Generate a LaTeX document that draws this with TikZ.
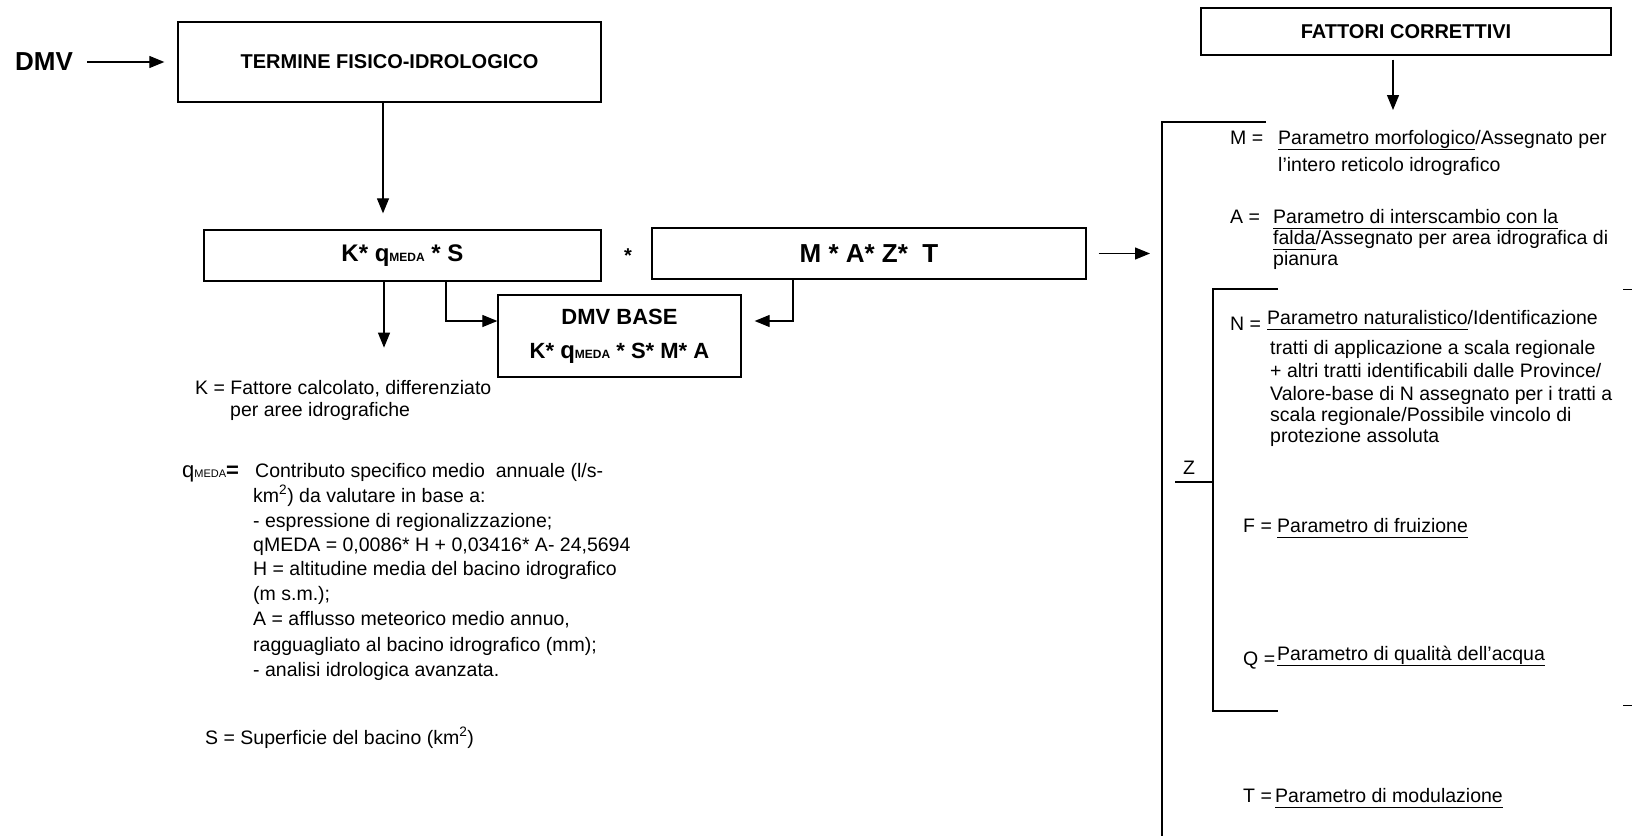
\documentclass[tikz,border=0pt]{standalone}
\usepackage{fontspec}
\setmainfont{Liberation Sans}
\usetikzlibrary{arrows.meta}
\newcommand{\ulg}[1]{\underline{#1\vphantom{g}}}
\newcommand{\qmbig}{{\fontsize{24}{24}\selectfont q}{\fontsize{12}{12}\selectfont MEDA}}
\newcommand{\qmtxt}{{\fontsize{22}{22}\selectfont q}{\fontsize{11}{11}\selectfont MEDA}}
\begin{document}
\begin{tikzpicture}[x=1pt,y=-1pt,
  box/.style={draw, line width=1.3pt, inner sep=0pt, align=center},
  arr/.style={line width=1.2pt, -{Triangle[length=15pt,width=12pt]}},
  ln/.style={line width=1.3pt},
  txt/.style={inner sep=0pt, anchor=base west, font=\fontsize{19.5}{23}\selectfont},
  hd/.style={font=\bfseries\fontsize{20}{24}\selectfont}]
\useasboundingbox (0,0) rectangle (1632,835);

% ---- top left
\node[inner sep=0pt, font=\bfseries\fontsize{26}{26}\selectfont] (dmv) at (44,62) {DMV};
\node[box, minimum width=423pt, minimum height=80pt, hd] (term) at (389.5,62) {TERMINE FISICO-IDROLOGICO};
\draw[arr] ([xshift=14pt]dmv.east) -- ([xshift=-13pt]term.west);

% ---- formula boxes
\node[box, minimum width=397pt, minimum height=51pt, font=\bfseries\fontsize{24}{24}\selectfont] (kbox) at (402.5,255.5) {K* \qmbig{} * S};
\node[inner sep=0pt, font=\bfseries\fontsize{20}{20}\selectfont] (star) at (628,256) {*};
\node[box, minimum width=434pt, minimum height=51pt, font=\bfseries\fontsize{26}{26}\selectfont] (mbox) at (869,253.5) {M * A* Z*\ \ T};
\node[box, minimum width=243pt, minimum height=82pt, font=\bfseries\fontsize{22}{34}\selectfont] (base) at (619.5,336) {DMV BASE\\K* \qmbig{} * S* M* A};

\draw[arr] ([xshift=-6.5pt]term.south) -- ([xshift=-6.5pt,yshift=16pt]term.south |- kbox.north);
\draw[arr] ([xshift=-18.5pt]kbox.south) -- ++(0,66);
\draw[arr] ([xshift=43.5pt]kbox.south) |- ([yshift=15pt]base.west);
\draw[arr] ([xshift=-76pt]mbox.south) |- ([xshift=13pt,yshift=15pt]base.east);

% ---- left texts
\node[txt] (k1) at (195,394) {K = Fattore calcolato, differenziato};
\node[txt] (k2) at (230,416) {per aree idrografiche};

\node[txt] (q0) at (182,477) {\qmtxt{}{\bfseries\fontsize{22}{22}\selectfont =}};
\node[txt] (q1) at (255,477) {Contributo specifico medio\ \ annuale (l/s-};
\node[txt] (q2) at (253,502) {km\textsuperscript{2}) da valutare in base a:};
\node[txt] (q3) at (253,527) {- espressione di regionalizzazione;};
\node[txt] (q4) at (253,551) {qMEDA = 0,0086* H + 0,03416* A- 24,5694};
\node[txt] (q5) at (253,575) {H = altitudine media del bacino idrografico};
\node[txt] (q6) at (253,600) {(m s.m.);};
\node[txt] (q7) at (253,625) {A = afflusso meteorico medio annuo,};
\node[txt] (q8) at (253,651) {ragguagliato al bacino idrografico (mm);};
\node[txt] (q9) at (253,676) {- analisi idrologica avanzata.};

\node[txt] (s1) at (205,744) {S = Superficie del bacino (km\textsuperscript{2})};

% ---- right column
\node[box, minimum width=410pt, minimum height=47pt, hd] (fatt) at (1406,31.5) {FATTORI CORRETTIVI};
\coordinate (ftip) at (1393,110);
\draw[arr] ([xshift=-13pt,yshift=-4pt]fatt.south) -- (ftip);

\coordinate (B0) at (1266,122);
\coordinate (B1) at (1162,122);
\coordinate (B2) at (1162,840);
\draw[ln] (B0) -- (B1) -- (B2);
\draw[arr] ([xshift=12pt]mbox.east) -- ([xshift=-12pt]B1 |- mbox.east);

\node[txt] (mlab) at (1230,144) {M =};
\node[txt] (mt1) at (1278,144) {\ulg{Parametro morfologico}/Assegnato per};
\node[txt] (mt2) at (1278,171) {l’intero reticolo idrografico};

\node[txt] (alab) at (1230,223) {A =};
\node[txt] (at1) at (1273,223) {\ulg{Parametro di interscambio con la}};
\node[txt] (at2) at (1273,244) {\ulg{falda}/Assegnato per area idrografica di};
\node[txt] (at3) at (1273,265) {pianura};

\coordinate (I0) at (1278,289);
\coordinate (I1) at (1213,289);
\coordinate (I2) at (1213,711);
\coordinate (I3) at (1278,711);
\draw[ln] (I0) -- (I1) -- (I2) -- (I3);
\coordinate (zl) at (1175,482);
\draw[ln] (zl) -- (I1 |- zl);
\node[txt] (zlab) at (1183,474) {Z};
\coordinate (r1) at (1623,289);
\coordinate (r2) at (1623,705);
\draw[line width=1pt] (r1) -- ++(10,0);
\draw[line width=1pt] (r2) -- ++(10,0);

\node[txt] (nlab) at (1230,330) {N =};
\node[txt] (nt1) at (1267,324) {\ulg{Parametro naturalistico}/Identificazione};
\node[txt] (nt2) at (1270,354) {tratti di applicazione a scala regionale};
\node[txt] (nt3) at (1270,377) {+ altri tratti identificabili dalle Province/};
\node[txt] (nt4) at (1270,400) {Valore-base di N assegnato per i tratti a};
\node[txt] (nt5) at (1270,421) {scala regionale/Possibile vincolo di};
\node[txt] (nt6) at (1270,442) {protezione assoluta};

\node[txt] (flab) at (1243,532) {F =};
\node[txt] (ft) at (1277,532) {\ulg{Parametro di fruizione}};

\node[txt] (qlab) at (1243,665) {Q =};
\node[txt] (qt) at (1277,660) {\ulg{Parametro di qualità dell’acqua}};

\node[txt] (tlab) at (1243,802) {T =};
\node[txt] (tt) at (1275,802) {\ulg{Parametro di modulazione}};
\end{tikzpicture}
\end{document}
